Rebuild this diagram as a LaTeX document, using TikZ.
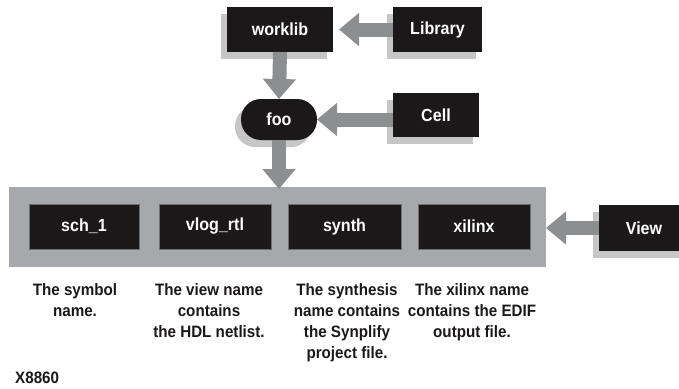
\documentclass[tikz,border=0pt]{standalone}
\usepackage{fontspec}
\setmainfont{Liberation Sans}[FakeStretch=0.92]
\usetikzlibrary{arrows.meta,shadows}
\definecolor{boxblack}{HTML}{1B1819}
\definecolor{panelgray}{HTML}{A7A8AB}
\definecolor{arrowgray}{HTML}{8D8E90}
\definecolor{shadowgray}{HTML}{C6C6C6}
\definecolor{edgegray}{HTML}{6E6E70}
\begin{document}
\begin{tikzpicture}[x=1pt,y=-1pt,
  blk/.style={fill=boxblack, text=white, font=\bfseries\fontsize{17.5}{20}\selectfont, inner sep=0pt, outer sep=0pt, minimum height=45pt},
  shd/.style={drop shadow={shadow xshift=-6pt, shadow yshift=-7pt, fill=shadowgray, opacity=1}},
  inner/.style={blk, draw=edgegray, line width=0.6pt},
  fat/.style={draw=arrowgray, line width=14pt, -{Triangle[length=20pt,width=32pt]}},
  txt/.style={font=\bfseries\fontsize{16.5}{21}\selectfont, align=center, anchor=north, inner sep=0pt, text=boxblack}
]
\useasboundingbox (0,0) rectangle (679,388);
% top nodes
\node[blk,shd,minimum width=106pt] (worklib) at (280,29.5) {worklib};
\node[blk,shd,minimum width=89pt] (library) at (437.5,29.5) {Library};
\node[blk,shd,minimum width=76pt,minimum height=41pt,rounded corners=20pt] (foo) at (279,119.5) {foo};
\node[blk,shd,minimum width=86pt,minimum height=44pt] (cell) at (436,115) {Cell};
% panel
\node[fill=panelgray,minimum width=537pt,minimum height=80pt,inner sep=0pt,outer sep=0pt] (big) at (277.5,227) {};
\node[inner,minimum width=110pt] (sch) at (84,226.5) {sch\_1};
\node[inner,minimum width=112pt] (vlog) at (215,226.5) {vlog\_rtl};
\node[inner,minimum width=113pt] (synth) at (344.5,226.5) {synth};
\node[inner,minimum width=112pt] (xilinx) at (474,226.5) {xilinx};
\node[blk,shd,minimum width=90pt,minimum height=46pt] (view) at (644,228) {View};
% arrows
\draw[fat, shorten >=6pt] (library.west) -- (worklib.east);
\draw[fat] (worklib.south) -- (foo.north);
\draw[fat] (cell.west |- foo.east) -- (foo.east);
\draw[fat, shorten >=-2pt] (foo.south) -- (foo.south |- big.north);
\draw[fat] (view.west) -- (view.west -| big.east);
% descriptions
\node[txt] (d1) at (75,283) {The symbol\\name.};
\node[txt] (d2) at (209,283) {The view name\\contains\\the HDL netlist.};
\node[txt] (d3) at (347,283) {The synthesis\\name contains\\the Synplify\\project file.};
\node[txt] (d4) at (472,283) {The xilinx name\\contains the EDIF\\output file.};
\node[txt, anchor=base west] (fig) at (15,383) {X8860};
\end{tikzpicture}
\end{document}
